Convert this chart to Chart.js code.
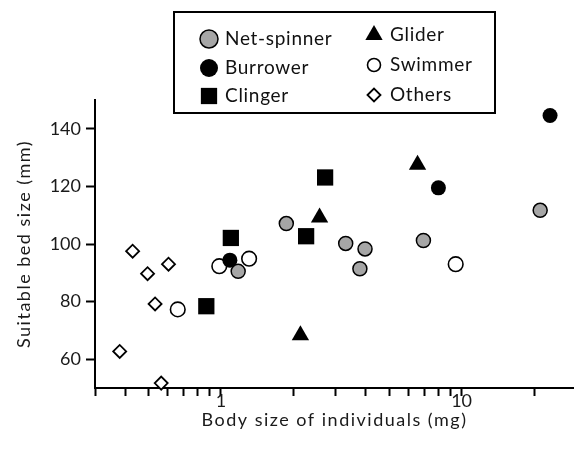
<!DOCTYPE html>
<html>
<head>
<meta charset="utf-8">
<script src="https://cdn.jsdelivr.net/npm/chart.js@4/dist/chart.umd.min.js"></script>
<style>
  html, body { margin: 0; padding: 0; background: #fff; overflow: hidden; }
  canvas { display: block; }
</style>
</head>
<body>
<canvas id="grafik" width="574" height="452"></canvas>
<script>
// body size (mg) and suitable bed size (mm) per group
const netSpinnerX = [1.87, 1.18, 3.30, 3.97, 3.78, 6.94, 21.2];
const netSpinnerY = [107.1, 90.5, 100.2, 98.3, 91.4, 101.2, 111.7];
const gliderX = [2.14, 2.57, 6.56];
const gliderY = [68.3, 109.2, 127.5];
const burrowerX = [1.09, 8.01, 23.3];
const burrowerY = [94.4, 119.5, 144.6];
const swimmerX = [0.662, 0.985, 1.31, 9.45];
const swimmerY = [77.3, 92.3, 94.9, 93.0];
const clingerX = [0.87, 1.10, 2.26, 2.71];
const clingerY = [78.4, 102.1, 102.7, 123.1];
const othersX = [0.38, 0.43, 0.496, 0.533, 0.565, 0.606];
const othersY = [62.7, 97.5, 89.7, 79.2, 51.7, 93.0];

// tick positions
const xTicks = [0.3, 0.4, 0.5, 0.6, 0.7, 0.8, 0.9, 1, 2, 3, 4, 5, 6, 7, 8, 9, 10, 20];
const xLabels = [1, 10];
const yTicks = [60, 80, 100, 120, 140];

const FONT = "Lato";

function titik(xs, ys) {
  return xs.map((x, i) => ({ x, y: ys[i] }));
}

// axis titles get a little letter spacing
const asliDrawTitle = Chart.Scale.prototype.drawTitle;
Chart.Scale.prototype.drawTitle = function () {
  this.ctx.save();
  this.ctx.letterSpacing = "1.5px";
  asliDrawTitle.call(this);
  this.ctx.restore();
};

const datasets = [
  { label: "Net-spinner", data: titik(netSpinnerX, netSpinnerY), pointStyle: "circle", pointRadius: 7,
    backgroundColor: "#a6a6a6", borderColor: "#000", borderWidth: 1.5, legendRadius: 9 },
  { label: "Glider", data: titik(gliderX, gliderY), pointStyle: "triangle", pointRadius: 10,
    backgroundColor: "#000", borderColor: "#000", borderWidth: 0, legendRadius: 10 },
  { label: "Burrower", data: titik(burrowerX, burrowerY), pointStyle: "circle", pointRadius: 7.5,
    backgroundColor: "#000", borderColor: "#000", borderWidth: 0, legendRadius: 9 },
  { label: "Swimmer", data: titik(swimmerX, swimmerY), pointStyle: "circle", pointRadius: 7.3,
    backgroundColor: "#fff", borderColor: "#000", borderWidth: 1.6, legendRadius: 6.5 },
  { label: "Clinger", data: titik(clingerX, clingerY), pointStyle: "rect", pointRadius: 11.5,
    backgroundColor: "#000", borderColor: "#000", borderWidth: 0, legendRadius: 11.5 },
  { label: "Others", data: titik(othersX, othersY), pointStyle: "rectRot", pointRadius: 6.5,
    backgroundColor: "#fff", borderColor: "#000", borderWidth: 1.8, legendRadius: 6.5 }
].map(d => Object.assign(d, { pointHoverRadius: d.pointRadius, clip: false }));

// legend box: two columns, order as in datasets
const kotakLegend = {
  id: "kotakLegend",
  afterDraw(chart) {
    const ctx = chart.ctx;
    ctx.save();
    ctx.fillStyle = "#fff";
    ctx.fillRect(174, 12, 321, 101);
    ctx.strokeStyle = "#000";
    ctx.lineWidth = 2;
    ctx.strokeRect(174, 12, 321, 101);

    const kolom = [{ mx: 209, tx: 225, rows: [39, 68, 96] }, { mx: 374, tx: 390, rows: [35, 65, 95] }];
    ctx.font = "19px " + FONT;
    ctx.letterSpacing = "0.7px";
    ctx.textBaseline = "middle";
    chart.data.datasets.forEach((ds, i) => {
      const k = kolom[i % 2];
      const y = k.rows[Math.floor(i / 2)];
      ctx.fillStyle = ds.backgroundColor;
      ctx.strokeStyle = ds.borderColor;
      ctx.lineWidth = ds.borderWidth;
      Chart.helpers.drawPoint(ctx, { pointStyle: ds.pointStyle, radius: ds.legendRadius,
        borderWidth: ds.borderWidth, rotation: 0 }, k.mx, y);
      ctx.fillStyle = "#111";
      ctx.fillText(ds.label, k.tx, y);
    });
    ctx.restore();
  }
};

const ctx = document.getElementById("grafik").getContext("2d");
window.grafikChart = new Chart(ctx, {
  type: "scatter",
  data: { datasets },
  options: {
    responsive: false,
    animation: false,
    events: [],
    layout: { autoPadding: false, padding: { top: 100, right: 0, left: 0, bottom: 0 } },
    plugins: { legend: { display: false }, tooltip: { enabled: false } },
    scales: {
      x: {
        type: "logarithmic",
        bounds: "data",
        min: 0.3,
        max: 29.3,
        afterBuildTicks: s => { s.ticks = xTicks.map(v => ({ value: v })); },
        afterFit: s => { s.height = 64; s.paddingLeft = 0; s.paddingRight = 0; },
        grid: { drawOnChartArea: false, drawTicks: true, tickLength: 8, tickWidth: 2, tickColor: "#000" },
        border: { display: true, color: "#000", width: 2 },
        ticks: {
          autoSkip: false, maxRotation: 0, padding: -6, color: "#1a1a1a",
          font: { family: FONT, size: 18 },
          callback: v => (xLabels.includes(v) ? String(v) : "")
        },
        title: { display: true, text: "Body size of individuals (mg)", color: "#1a1a1a",
          font: { family: FONT, size: 18 }, padding: { top: 0, bottom: 21 } }
      },
      y: {
        min: 50,
        max: 150,
        afterBuildTicks: s => { s.ticks = yTicks.map(v => ({ value: v })); },
        afterFit: s => { s.width = 95; s.paddingTop = 0; s.paddingBottom = 0; },
        grid: { drawOnChartArea: false, drawTicks: true, tickLength: 9, tickWidth: 2, tickColor: "#000" },
        border: { display: true, color: "#000", width: 2 },
        ticks: { padding: 5, color: "#1a1a1a", font: { family: FONT, size: 18 } },
        title: { display: true, text: "Suitable bed size (mm)", color: "#1a1a1a",
          font: { family: FONT, size: 18 }, padding: { top: 13, bottom: 0 } }
      }
    }
  },
  plugins: [kotakLegend]
});
</script>
</body>
</html>
